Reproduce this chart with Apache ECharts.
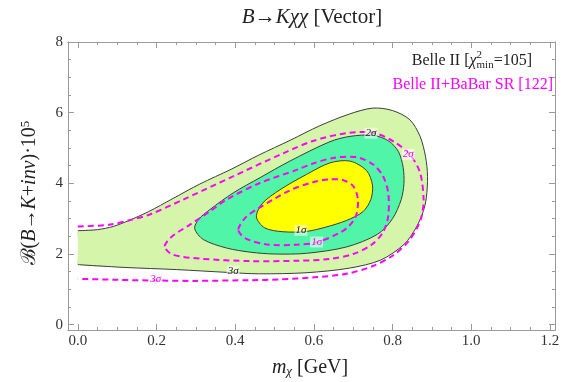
<!DOCTYPE html>
<html>
<head>
<meta charset="utf-8">
<script src="https://cdn.jsdelivr.net/npm/echarts@6/dist/echarts.min.js"></script>
<style>
  html, body { margin: 0; background: #fff; }
  #chart { width: 566px; height: 382px; }
</style>
</head>
<body>
<div id="chart"></div>
<script>
// axis ranges and ticks
const X_MIN = -0.025, X_MAX = 1.213
const Y_MIN = -0.15, Y_MAX = 8.0
const X_TICKS = [0, 0.2, 0.4, 0.6, 0.8, 1.0, 1.2]
const X_MINOR = [0.05, 0.1, 0.15, 0.25, 0.3, 0.35, 0.45, 0.5, 0.55, 0.65, 0.7, 0.75, 0.85, 0.9, 0.95, 1.05, 1.1, 1.15]
const Y_TICKS = [0, 2, 4, 6, 8]
const Y_MINOR = [0.5, 1, 1.5, 2.5, 3, 3.5, 4.5, 5, 5.5, 6.5, 7, 7.5]

// Belle II contours (m_chi, BR x 1e5); the 3 sigma one is cut by m_chi = 0
const belle3 = [[0, 2.66], [0.05, 2.69], [0.09, 2.78], [0.13, 2.95], [0.18, 3.2], [0.24, 3.56], [0.31, 3.98], [0.39, 4.4], [0.46, 4.8], [0.54, 5.22], [0.615, 5.63], [0.69, 5.96], [0.75, 6.13], [0.80, 6.06], [0.844, 5.8], [0.870, 5.33], [0.884, 4.75], [0.889, 4.2], [0.886, 3.6], [0.878, 3.2], [0.86, 2.75], [0.83, 2.28], [0.77, 1.83], [0.69, 1.6], [0.58, 1.47], [0.46, 1.44], [0.38, 1.48], [0.25, 1.56], [0.12, 1.62], [0, 1.70]]
const belle3Cut = [[0, 1.9], [0, 2.2], [0, 2.45]]
const belle2 = [[0.297, 2.72], [0.307, 2.98], [0.336, 3.26], [0.395, 3.73], [0.463, 4.16], [0.539, 4.63], [0.641, 5.18], [0.692, 5.33], [0.751, 5.36], [0.79, 5.2], [0.815, 4.9], [0.827, 4.45], [0.829, 4.0], [0.822, 3.54], [0.80, 3.0], [0.762, 2.56], [0.683, 2.2], [0.581, 2.02], [0.50, 2.0], [0.44, 2.05], [0.378, 2.17], [0.319, 2.41]]
const belle1 = [[0.454, 3.05], [0.468, 3.42], [0.514, 3.82], [0.581, 4.25], [0.641, 4.58], [0.692, 4.63], [0.734, 4.36], [0.749, 3.95], [0.745, 3.55], [0.725, 3.2], [0.683, 2.95], [0.63, 2.76], [0.581, 2.64], [0.522, 2.63], [0.475, 2.74]]

// Belle II + BaBar SR contours
const combo1 = [[0.408, 2.69], [0.428, 3.05], [0.46, 3.3], [0.539, 3.8], [0.60, 4.04], [0.641, 4.11], [0.675, 4.09], [0.700, 3.92], [0.712, 3.55], [0.707, 3.07], [0.69, 2.8], [0.666, 2.6], [0.607, 2.33], [0.55, 2.26], [0.48, 2.27], [0.425, 2.45]]
const combo2 = [[0.221, 2.22], [0.24, 2.5], [0.285, 2.83], [0.336, 3.21], [0.378, 3.54], [0.463, 4.01], [0.556, 4.38], [0.598, 4.56], [0.649, 4.72], [0.709, 4.74], [0.751, 4.53], [0.776, 4.2], [0.789, 3.73], [0.789, 3.07], [0.775, 2.6], [0.745, 2.25], [0.70, 2.0], [0.64, 1.86], [0.56, 1.81], [0.44, 1.80], [0.31, 1.87], [0.24, 1.99]]
const combo3 = [[0, 2.78], [0.08, 2.83], [0.14, 2.98], [0.183, 3.12], [0.268, 3.54], [0.395, 4.2], [0.522, 4.85], [0.598, 5.2], [0.683, 5.42], [0.751, 5.43], [0.802, 5.19], [0.844, 4.82], [0.870, 4.30], [0.879, 3.54], [0.874, 3.07], [0.863, 2.75], [0.84, 2.35], [0.80, 1.95], [0.75, 1.66], [0.683, 1.44], [0.6, 1.34], [0.514, 1.28], [0.437, 1.26], [0.3, 1.24], [0.2, 1.25], [0.1, 1.27], [0, 1.30]]

// contour labels
const belleLabels = [[0.395, 1.52, '3σ'], [0.745, 5.42, '2σ'], [0.567, 2.67, '1σ']]
const comboLabels = [[0.198, 1.29, '3σ'], [0.84, 4.82, '2σ'], [0.607, 2.34, '1σ']]

const SERIF = '"Liberation Serif", "DejaVu Serif", serif'
const MAGENTA = '#ff00ff'
const FRAME = '#9a9a9a'
const EDGE = { fill: 'none', stroke: '#3c3c3c', lineWidth: 1 }
const DASH = { fill: 'none', stroke: MAGENTA, lineWidth: 2, lineDash: [6, 4] }

const chart = echarts.init(document.getElementById('chart'))

function contour(points, style, closed) {
  return {
    type: 'custom',
    coordinateSystem: 'cartesian2d',
    xAxisIndex: 0, yAxisIndex: 0,
    data: [[0, 0]],
    silent: true,
    renderItem: (params, api) => ({
      type: closed ? 'polygon' : 'polyline',
      shape: { points: points.map((p) => api.coord(p)), smooth: 0.3 },
      style: style,
    }),
  }
}

function labels(list, color) {
  return {
    type: 'custom',
    coordinateSystem: 'cartesian2d',
    xAxisIndex: 0, yAxisIndex: 0,
    data: list,
    silent: true,
    z: 5,
    renderItem: (params, api) => {
      const p = api.coord([api.value(0), api.value(1)])
      return {
        type: 'text', x: p[0], y: p[1],
        style: {
          text: list[params.dataIndex][2], fill: color,
          font: 'italic 11px ' + SERIF, align: 'center', verticalAlign: 'middle',
          backgroundColor: 'rgba(255,255,255,0.55)', padding: [0, 1],
        },
      }
    },
  }
}

function xAxis(pos, ticks, len, showLabel) {
  return {
    type: 'value', position: pos, offset: 0, min: X_MIN, max: X_MAX,
    axisLine: { show: true, onZero: false, lineStyle: { color: FRAME, width: 1 } },
    splitLine: { show: false },
    axisTick: { show: true, inside: true, length: len, customValues: ticks, lineStyle: { color: FRAME } },
    axisLabel: showLabel
      ? { show: true, customValues: ticks, margin: 4, color: '#333', fontFamily: SERIF, fontSize: 15, formatter: (v) => v.toFixed(1) }
      : { show: false },
  }
}
function yAxis(pos, ticks, len, showLabel) {
  return {
    type: 'value', position: pos, offset: 0, min: Y_MIN, max: Y_MAX,
    axisLine: { show: true, onZero: false, lineStyle: { color: FRAME, width: 1 } },
    splitLine: { show: false },
    axisTick: { show: true, inside: true, length: len, customValues: ticks, lineStyle: { color: FRAME } },
    axisLabel: showLabel
      ? { show: true, customValues: ticks, margin: 5, color: '#333', fontFamily: SERIF, fontSize: 15, formatter: (v) => String(v) }
      : { show: false },
  }
}

// legend text layout
const mctx = document.createElement('canvas').getContext('2d')
function tw(str, font) { mctx.font = font; return mctx.measureText(str).width }
const fNorm = '16px ' + SERIF, fItal = 'italic 16px ' + SERIF, fSmall = '11px ' + SERIF
const w1 = tw('Belle II [', fNorm), w2 = tw('χ', fItal), w3 = tw('min', fSmall), w4 = tw('=105]', fNorm)
const lx = 532 - (w1 + w2 + w3 + w4)
const ly = 61
const txt = (x, y, text, font, fill, align) => ({ type: 'text', x, y, silent: true, style: { text, font, fill, align: align || 'left', verticalAlign: 'middle' } })

chart.setOption({
  animation: false,
  grid: { left: 68, right: 11, top: 42, bottom: 52 },
  xAxis: [xAxis('bottom', X_TICKS, 6, true), xAxis('bottom', X_MINOR, 3, false), xAxis('top', X_TICKS, 6, false), xAxis('top', X_MINOR, 3, false)],
  yAxis: [yAxis('left', Y_TICKS, 6, true), yAxis('left', Y_MINOR, 3, false), yAxis('right', Y_TICKS, 6, false), yAxis('right', Y_MINOR, 3, false)],
  series: [
    contour(belle3.concat(belle3Cut), { fill: '#d4f5aa' }, true),
    contour(belle3, EDGE, false),
    contour(belle2, Object.assign({}, EDGE, { fill: '#50f5a8' }), true),
    contour(belle1, Object.assign({}, EDGE, { fill: '#ffff00' }), true),
    contour(combo3, DASH, false),
    contour(combo2, DASH, true),
    contour(combo1, DASH, true),
    labels(belleLabels, '#222'),
    labels(comboLabels, MAGENTA),
  ],
  graphic: [
    {
      type: 'text', x: 312, y: 17, silent: true,
      style: {
        text: '{i|B}→{i|K}{i|χχ} [Vector]', fill: '#222', font: '21px ' + SERIF,
        align: 'center', verticalAlign: 'middle',
        rich: { i: { fontStyle: 'italic', fontSize: 21, fontFamily: SERIF } },
      },
    },
    txt(lx, ly, 'Belle II [', fNorm, '#222'),
    txt(lx + w1, ly, 'χ', fItal, '#222'),
    txt(lx + w1 + w2, ly + 4, 'min', fSmall, '#222'),
    txt(lx + w1 + w2, ly - 6, '2', fSmall, '#222'),
    txt(lx + w1 + w2 + w3, ly, '=105]', fNorm, '#222'),
    txt(553, 85, 'Belle II+BaBar SR [122]', fNorm, MAGENTA, 'right'),
    {
      type: 'text', x: 310, y: 368, silent: true,
      style: {
        text: '{i|m}{s|χ}{n| [GeV]}', fill: '#222', font: '20px ' + SERIF,
        align: 'center', verticalAlign: 'middle',
        rich: {
          i: { fontStyle: 'italic', fontSize: 20, fontFamily: SERIF, lineHeight: 22 },
          n: { fontSize: 20, fontFamily: SERIF, lineHeight: 22 },
          s: { fontStyle: 'italic', fontSize: 13, fontFamily: SERIF, lineHeight: 14, padding: [8, 0, 0, 0] },
        },
      },
    },
    {
      type: 'text', x: 30, y: 193, rotation: Math.PI / 2, silent: true,
      style: {
        text: '{c|ℬ}{n|(}{i|B}{n|→}{i|K}{n|+}{i|inv}{n|)·10}{p|5}', fill: '#222', font: '20px ' + SERIF,
        align: 'center', verticalAlign: 'middle',
        rich: {
          c: { fontSize: 20, fontFamily: '"DejaVu Serif", serif', lineHeight: 22 },
          i: { fontStyle: 'italic', fontSize: 20, fontFamily: SERIF, lineHeight: 22 },
          n: { fontSize: 20, fontFamily: SERIF, lineHeight: 22 },
          p: { fontSize: 13, fontFamily: SERIF, lineHeight: 14, padding: [0, 0, 8, 0] },
        },
      },
    },
  ],
})
</script>
</body>
</html>
